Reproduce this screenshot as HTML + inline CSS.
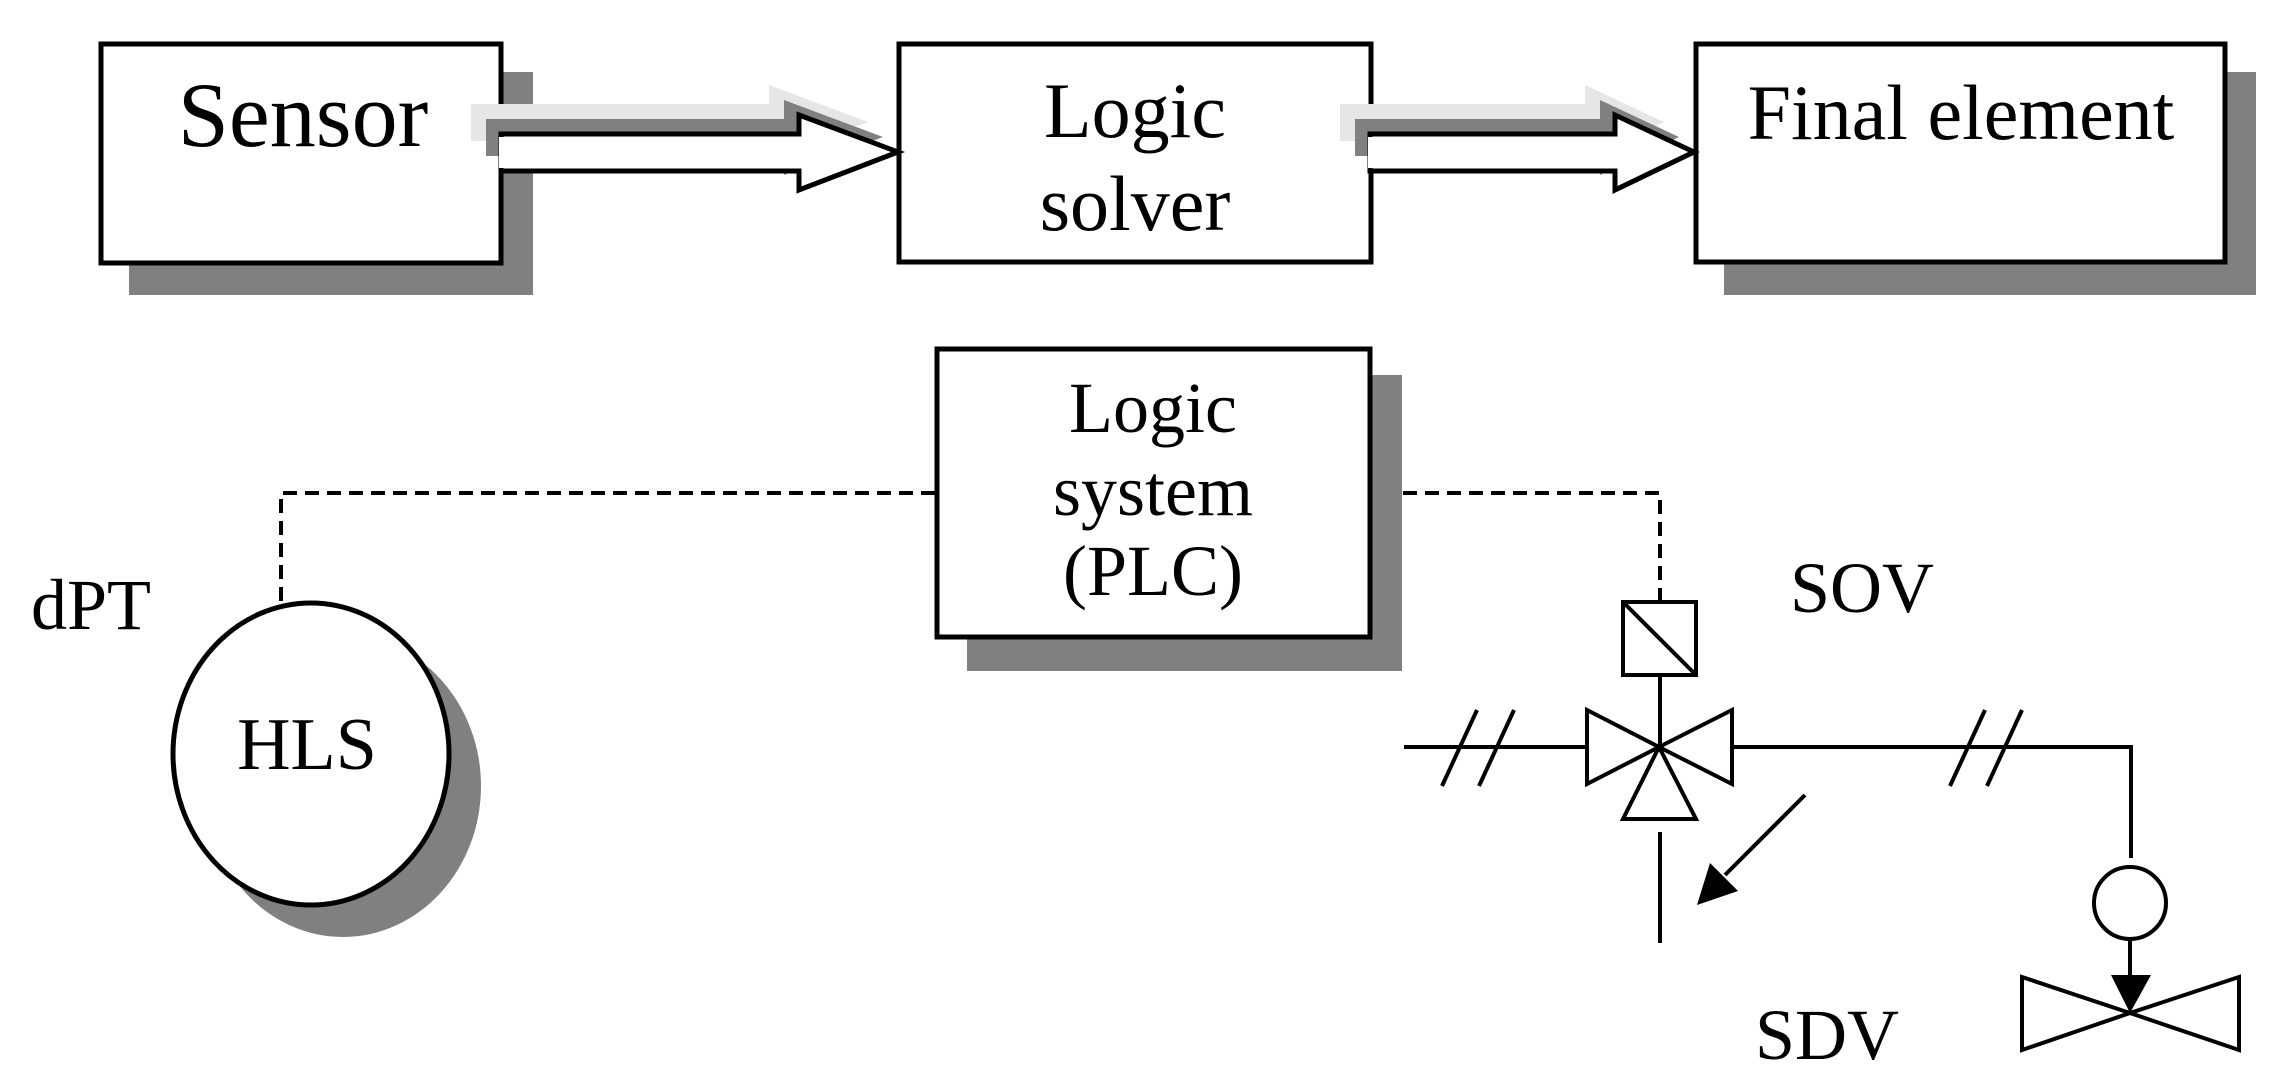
<!DOCTYPE html>
<html><head><meta charset="utf-8"><style>
html,body{margin:0;padding:0;background:#fff;}
svg{display:block;}
text{font-family:"Liberation Serif",serif;fill:#000;}
</style></head><body>
<svg width="2290" height="1092" viewBox="0 0 2290 1092" xmlns="http://www.w3.org/2000/svg">
<!-- shadows -->
<rect x="129" y="72" width="404" height="223" fill="#808080"/>
<rect x="1724" y="72" width="532" height="223" fill="#808080"/>
<rect x="967" y="375" width="435" height="296" fill="#808080"/>
<ellipse cx="343" cy="786" rx="138" ry="151" fill="#808080"/>

<!-- top boxes -->
<rect x="101" y="44" width="400" height="219" fill="#fff" stroke="#000" stroke-width="5"/>
<rect x="899" y="44" width="472" height="218" fill="#fff" stroke="#000" stroke-width="5"/>
<rect x="1696" y="44" width="529" height="218" fill="#fff" stroke="#000" stroke-width="5"/>

<polygon transform="translate(-30,-30)" points="501,134 799,134 799,115 898,152 799,190 799,171 501,171" fill="#e6e6e6"/>
<polygon transform="translate(-15,-15)" points="501,134 799,134 799,115 898,152 799,190 799,171 501,171" fill="#808080"/>
<polygon points="501,134 799,134 799,115 898,152 799,190 799,171 501,171" fill="#fff" stroke="#000" stroke-width="5"/>
<rect x="499" y="137" width="5" height="31" fill="#fff"/>

<polygon transform="translate(-30,-30)" points="1370,134 1615,134 1615,115 1694,152 1615,190 1615,171 1370,171" fill="#e6e6e6"/>
<polygon transform="translate(-15,-15)" points="1370,134 1615,134 1615,115 1694,152 1615,190 1615,171 1370,171" fill="#808080"/>
<polygon points="1370,134 1615,134 1615,115 1694,152 1615,190 1615,171 1370,171" fill="#fff" stroke="#000" stroke-width="5"/>
<rect x="1368" y="137" width="5" height="31" fill="#fff"/>

<text x="303" y="146" font-size="92" text-anchor="middle">Sensor</text>
<text x="1135" y="137" font-size="78" text-anchor="middle">Logic</text>
<text x="1135" y="230" font-size="78" text-anchor="middle">solver</text>
<text x="1961" y="139" font-size="78" text-anchor="middle">Final element</text>

<rect x="937" y="349" width="433" height="288" fill="#fff" stroke="#000" stroke-width="5"/>
<text x="1153" y="432" font-size="72" text-anchor="middle">Logic</text>
<text x="1153" y="515" font-size="72" text-anchor="middle">system</text>
<text x="1153" y="595" font-size="72" text-anchor="middle">(PLC)</text>

<g stroke="#000" stroke-width="4" fill="none" stroke-dasharray="14,8">
<polyline points="935,493 281,493 281,605"/>
<polyline points="1403,493 1660,493 1660,602"/>
</g>

<ellipse cx="311" cy="754" rx="138" ry="151" fill="#fff" stroke="#000" stroke-width="5"/>
<text x="307" y="769" font-size="74" text-anchor="middle">HLS</text>
<text x="31" y="629" font-size="72">dPT</text>

<g stroke="#000" stroke-width="4" fill="none">
<rect x="1623" y="602" width="73" height="73" fill="#fff"/>
<line x1="1623" y1="602" x2="1696" y2="675"/>
<line x1="1660" y1="675" x2="1660" y2="747"/>
<polygon points="1587,710 1659,747 1587,784"/>
<polygon points="1732,710 1659,747 1732,784"/>
<polygon points="1659,747 1623,819 1696,819"/>
<line x1="1404" y1="747" x2="1587" y2="747"/>
<line x1="1732" y1="747" x2="2131" y2="747"/>
<line x1="2131" y1="745" x2="2131" y2="858"/>
<line x1="1477" y1="710" x2="1442" y2="786"/>
<line x1="1514" y1="710" x2="1479" y2="786"/>
<line x1="1985" y1="710" x2="1950" y2="786"/>
<line x1="2022" y1="710" x2="1987" y2="786"/>
<line x1="1660" y1="832" x2="1660" y2="943"/>
<line x1="1805" y1="795" x2="1725" y2="875"/>
<circle cx="2130" cy="903" r="36" fill="#fff"/>
<line x1="2130" y1="939" x2="2130" y2="980"/>
<polygon points="2022,977 2130,1013 2022,1050"/>
<polygon points="2239,977 2130,1013 2239,1050"/>
</g>
<polygon points="1697,905 1710,863 1738,891" fill="#000"/>
<polygon points="2130,1013 2111,975 2151,975" fill="#000"/>

<text x="1790" y="612" font-size="72">SOV</text>
<text x="1755" y="1059" font-size="72">SDV</text>
</svg>
</body></html>
